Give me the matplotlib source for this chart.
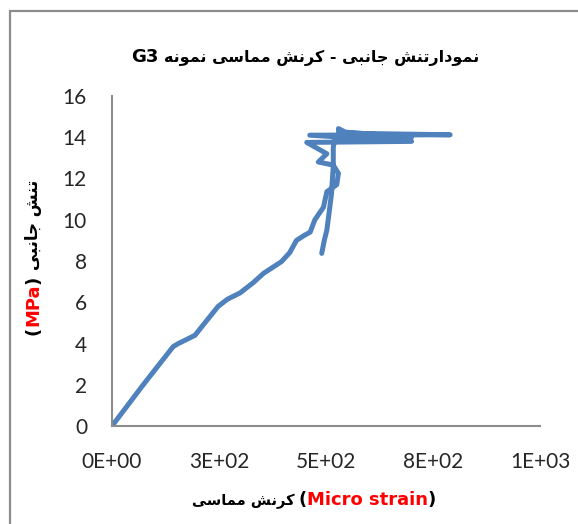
import numpy as np
import matplotlib
matplotlib.use("Agg")
import matplotlib.pyplot as plt
from matplotlib.patches import Rectangle
from matplotlib.transforms import IdentityTransform

# values (micro strain, MPa)
strain = [0, 73, 143, 155, 170, 194, 215, 248, 270, 299, 330, 354, 396, 415, 431, 450,
          463, 474, 494, 502, 525, 529, 517, 482, 502, 455, 700, 462, 790, 530, 529, 545,
          700, 520, 517, 517, 515, 513, 507, 502, 496, 490]
stress = [0, 2.0, 3.85, 4.0, 4.15, 4.4, 4.95, 5.8, 6.15, 6.45, 6.95, 7.4, 7.97, 8.4, 9.0, 9.25,
          9.4, 10.0, 10.6, 11.36, 11.7, 12.25, 12.65, 12.8, 13.2, 13.75, 13.8, 14.1, 14.12,
          14.2, 14.42, 14.25, 14.0, 13.95, 13.5, 12.6, 12.0, 11.28, 10.3, 9.5, 9.0, 8.37]

x_ticks = [0, 250, 500, 750, 1000]
x_ticklabels = ["0E+00", "3E+02", "5E+02", "8E+02", "1E+03"]
y_ticks = [0, 2, 4, 6, 8, 10, 12, 14, 16]

title_fa = "نمودارتنش جانبی - کرنش مماسی نمونه"
title_en = "G3"
ylabel_fa = "تنش جانبی"
ylabel_en = "MPa"
xlabel_fa = "کرنش مماسی"
xlabel_en = "Micro strain"

# --- tiny arabic shaping (matplotlib has no shaping / bidi) ---
# letter: (isolated, final, initial, medial); None -> joins only to the right
FORMS = {
    "ا": ("\uFE8D", "\uFE8E", None, None),
    "ب": ("\uFE8F", "\uFE90", "\uFE91", "\uFE92"),
    "ت": ("\uFE95", "\uFE96", "\uFE97", "\uFE98"),
    "ج": ("\uFE9D", "\uFE9E", "\uFE9F", "\uFEA0"),
    "د": ("\uFEA9", "\uFEAA", None, None),
    "ر": ("\uFEAD", "\uFEAE", None, None),
    "س": ("\uFEB1", "\uFEB2", "\uFEB3", "\uFEB4"),
    "ش": ("\uFEB5", "\uFEB6", "\uFEB7", "\uFEB8"),
    "م": ("\uFEE1", "\uFEE2", "\uFEE3", "\uFEE4"),
    "ن": ("\uFEE5", "\uFEE6", "\uFEE7", "\uFEE8"),
    "ه": ("\uFEE9", "\uFEEA", "\uFEEB", "\uFEEC"),
    "و": ("\uFEED", "\uFEEE", None, None),
    "ی": ("\uFBFC", "\uFBFD", "\uFBFE", "\uFBFF"),
    "ک": ("\uFB8E", "\uFB8F", "\uFB90", "\uFB91"),
}


def rtl(s):
    out = []
    for i, ch in enumerate(s):
        if ch not in FORMS:
            out.append(ch)
            continue
        prev = s[i - 1] if i > 0 else ""
        nxt = s[i + 1] if i + 1 < len(s) else ""
        p = prev in FORMS and FORMS[prev][2] is not None
        n = FORMS[ch][2] is not None and nxt in FORMS
        f = FORMS[ch]
        if p and n:
            out.append(f[3])
        elif p:
            out.append(f[1])
        elif n:
            out.append(f[2])
        else:
            out.append(f[0])
    return "".join(out[::-1])


fig = plt.figure(figsize=(5.78, 5.24), dpi=100)
W, H = 578, 524

# chart border (cropped on right/bottom)
fig.patches.append(Rectangle((10 / W, -0.1), 1.2, 1 - 11 / H + 0.1, transform=fig.transFigure,
                             fill=False, edgecolor="#8c8c8c", lw=1.6))

ax = fig.add_axes([112 / W, 1 - 426 / H, (540 - 112) / W, (426 - 96) / H])
ax.plot(strain, stress, color="#4F81BD", lw=3.6, solid_capstyle="round", solid_joinstyle="round")
ax.set_xlim(0, 1000)
ax.set_ylim(0, 16)
ax.set_xticks(x_ticks)
ax.set_xticklabels(x_ticklabels)
ax.set_yticks(y_ticks)
for s in ["top", "right"]:
    ax.spines[s].set_visible(False)
for s in ["left", "bottom"]:
    ax.spines[s].set_color("#8c8c8c")
    ax.spines[s].set_linewidth(1.5)
ax.tick_params(length=0, labelsize=15, labelcolor="#262626")
ax.tick_params(axis="x", pad=19)
ax.tick_params(axis="y", pad=18)
for lab in ax.get_xticklabels() + ax.get_yticklabels():
    lab.set_fontfamily("Lato")

renderer = fig.canvas.get_renderer()
ident = IdentityTransform()


def place(pieces, cx, cy, rotation=0):
    # pieces: (text, color, size, gap_before_px); laid out left->right (or bottom->top when rotated)
    arts = []
    for txt, col, size, gap in pieces:
        t = fig.text(0, 0, txt, color=col, fontsize=size, fontweight="bold",
                     family=["DejaVu Sans"], ha="left", va="baseline",
                     rotation=rotation, rotation_mode="anchor", transform=ident)
        bb = t.get_window_extent(renderer)
        arts.append((t, (bb.height if rotation else bb.width), gap))
    total = sum(w + g for _, w, g in arts)
    pos = -total / 2
    for t, w, g in arts:
        pos += g
        if rotation:
            t.set_position((cx, cy + pos))
        else:
            t.set_position((cx + pos, cy))
        pos += w


# title
place([(title_en, "black", 13, 0), (rtl(title_fa), "black", 11.5, 6)], 305, H - 62)
# x label
place([(rtl(xlabel_fa), "black", 10.5, 0), ("(", "black", 13, 4), (xlabel_en, "red", 13, 0),
       (")", "black", 13, 0)], 314, H - 505)
# y label
place([("(", "black", 13, 0), (ylabel_en, "red", 13, 0), (")", "black", 13, 0),
       (rtl(ylabel_fa), "black", 12, 6)], 38, H - 257, rotation=90)

fig.savefig("out.png", dpi=100)
